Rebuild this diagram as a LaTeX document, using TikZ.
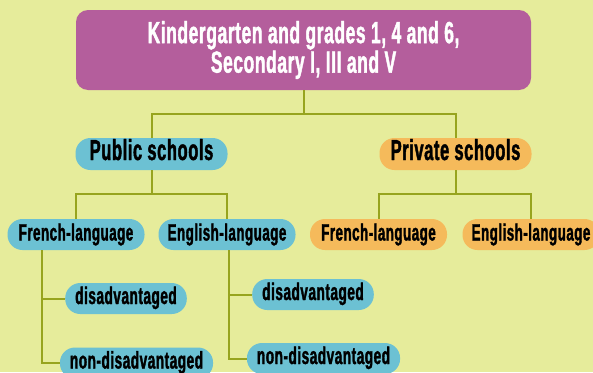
\documentclass[tikz,border=0pt]{standalone}
\usepackage{fontspec}
\usepackage{tikz}
\newfontfamily\condfont[FakeStretch=0.57, FakeBold=1.4, LetterSpace=2]{Liberation Sans}
\definecolor{bgcol}{HTML}{E6EC9B}
\definecolor{topcol}{HTML}{B45E9C}
\definecolor{pubcol}{HTML}{6CC1D3}
\definecolor{privcol}{HTML}{F5BA5B}
\definecolor{linkcol}{HTML}{97A41E}
\newcommand{\pillr}{15pt}

\begin{document}
\begin{tikzpicture}[x=1pt,y=-1pt]
            %\draw[help lines] (0,0) grid (593,372);
            \tikzset{link/.style = {draw=linkcol, line width=2pt}}
            \tikzset{pill/.style = {rounded corners=\pillr, inner ysep=0pt, text=black}}
            \tikzset{topbox/.style = {fill=topcol, rounded corners=12pt, minimum width=455pt, minimum height=80pt,
                align=center, text=white, font=\condfont\bfseries\fontsize{30.5}{28}\selectfont}}
            \tikzset{school/.style = {pill, minimum width=152pt, minimum height=32pt, text height=19pt, text depth=7pt,
                font=\condfont\bfseries\fontsize{29}{28}\selectfont}}
            \tikzset{lang/.style = {pill, minimum width=137pt, minimum height=31pt, text height=15pt, text depth=3pt,
                font=\condfont\bfseries\fontsize{23.5}{24}\selectfont}}
            \tikzset{sub/.style = {pill, fill=pubcol, inner xsep=10pt, minimum height=31pt, text height=16pt, text depth=5pt,
                font=\condfont\bfseries\fontsize{24}{24}\selectfont}}
            \fill[bgcol] (0,0) rectangle (593,372);
            \useasboundingbox (0,0) rectangle (593,372);
            % boxes
            \node[topbox] (top) at (303.5,50) {Kindergarten and grades 1, 4 and 6,\\Secondary I, III and V};
            \node[school, fill=pubcol] (pub) at (151.5,154) {Public schools};
            \node[school, fill=privcol] (priv) at (455.5,154) {Private schools};
            \node[lang, fill=pubcol] (pubfr) at (76,234.5) {French-language};
            \node[lang, fill=pubcol] (puben) at (227,234.5) {English-language};
            \node[lang, fill=privcol] (privfr) at (378.5,234.5) {French-language};
            \node[lang, fill=privcol] (priven) at (531,234.5) {English-language};
            \node[sub] (frdis) at (126,298.5) {disadvantaged};
            \node[sub] (frnon) at (136.5,363) {non-disadvantaged};
            \node[sub] (endis) at (313,294.5) {disadvantaged};
            \node[sub] (ennon) at (323.5,358.5) {non-disadvantaged};
            % connectors
            \coordinate (tj) at (303.5,114);
            \draw[link] (top.south) -- (tj) -| (pub.north);
            \draw[link] (tj) -| (priv.north);
            \coordinate (pj) at (151.5,194);
            \draw[link] (pub.south) -- (pj) -| (pubfr.north);
            \draw[link] (pj) -| (puben.north);
            \coordinate (rj) at (455.5,194);
            \draw[link] (priv.south) -- (rj) -| (privfr.north);
            \draw[link] (rj) -| (priven.north);
            \coordinate (frj) at ([xshift=-34pt]pubfr.south);
            \draw[link] (frj) |- (frdis.west);
            \draw[link] (frj) |- (frnon.west);
            \coordinate (enj) at ([xshift=2pt]puben.south);
            \draw[link] (enj) |- (endis.west);
            \draw[link] (enj) |- (ennon.west);
        \end{tikzpicture}
\end{document}
